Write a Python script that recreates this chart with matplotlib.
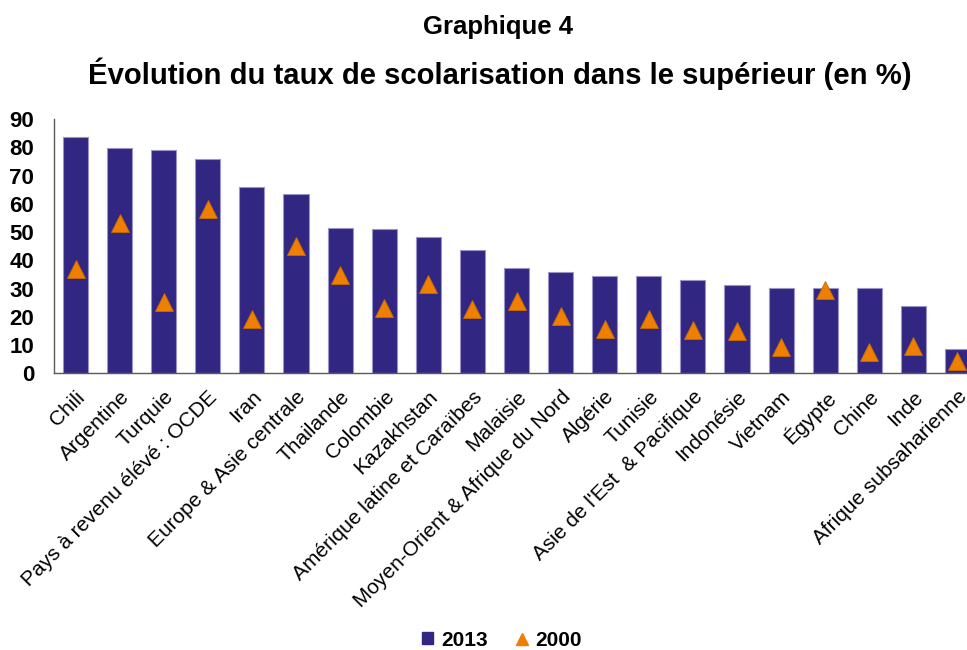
import matplotlib
matplotlib.use("Agg")
import matplotlib.pyplot as plt
from matplotlib.lines import Line2D
from matplotlib.patches import Patch

plt.rcParams['font.family'] = ['Liberation Sans', 'DejaVu Sans']

categories = ["Chili", "Argentine", "Turquie", "Pays à revenu élévé : OCDE", "Iran",
              "Europe & Asie centrale", "Thailande", "Colombie", "Kazakhstan",
              "Amérique latine et Caraïbes", "Malaisie", "Moyen-Orient & Afrique du Nord",
              "Algérie", "Tunisie", "Asie de l'Est  & Pacifique", "Indonésie", "Vietnam",
              "Égypte", "Chine", "Inde", "Afrique subsaharienne"]
values_2013 = [83.7, 79.9, 78.9, 76.0, 65.9, 63.3, 51.4, 51.2, 48.4, 43.8, 37.1, 35.8,
               34.6, 34.4, 32.9, 31.2, 30.3, 30.2, 30.1, 23.7, 8.5]
values_2000 = [37.0, 53.1, 25.3, 58.1, 19.2, 44.9, 34.7, 23.0, 31.6, 22.7, 25.7, 20.3,
               15.6, 19.1, 15.3, 14.8, 9.4, 29.4, 7.7, 9.5, 4.4]
yticks = [0, 10, 20, 30, 40, 50, 60, 70, 80, 90]

BAR = '#312681'
ORANGE = '#EE7F00'

W, H = 967, 650
fig = plt.figure(figsize=(W / 100, H / 100), dpi=100)
left_px, right_px = 53.5, 979.5
bot_px, top_px = 373.3, 119.0
ax = fig.add_axes([left_px / W, (H - bot_px) / H, (right_px - left_px) / W, (bot_px - top_px) / H])

x = list(range(len(categories)))
ax.bar(x, values_2013, width=0.57, color=BAR, edgecolor='#9A94C8', linewidth=0.8, zorder=2)
ax.plot(x, values_2000, linestyle='none', marker='^', markersize=13.5,
        color=ORANGE, markeredgecolor='#C86A00', markeredgewidth=0.6, zorder=3)

ax.set_xlim(-0.5, len(categories) - 0.5)
ax.set_ylim(0, 90)
ax.set_yticks(yticks)
ax.set_yticklabels([str(v) for v in yticks], fontsize=16, fontweight='bold')
ax.set_xticks(x)
ax.set_xticklabels(categories, rotation=45, ha='right', va='top', rotation_mode='anchor',
                   fontsize=15)
ax.tick_params(axis='both', length=0)
ax.tick_params(axis='y', pad=14)
ax.tick_params(axis='x', pad=10)
for s in ['top', 'right']:
    ax.spines[s].set_visible(False)
for s in ['left', 'bottom']:
    ax.spines[s].set_color('#5a5a5a')
    ax.spines[s].set_linewidth(1.0)

fig.text(498 / W, 1 - 27 / H, "Graphique 4", ha='center', va='center',
         fontsize=18.5, fontweight='bold')
fig.text(500 / W, 1 - 74 / H, "Évolution du taux de scolarisation dans le supérieur (en %)",
         ha='center', va='center', fontsize=21.1, fontweight='bold')

handles = [Patch(facecolor=BAR, edgecolor=BAR),
           Line2D([], [], linestyle='none', marker='^', markersize=8, color=ORANGE)]
leg = fig.legend(handles, ["2013", "2000"], loc='center', bbox_to_anchor=(502 / W, 1 - 640 / H),
                 ncol=2, frameon=False, prop={'size': 15, 'weight': 'bold'},
                 handlelength=0.5, handleheight=0.5, handletextpad=0.4, columnspacing=1.4)

fig.savefig("out.png", dpi=100)
